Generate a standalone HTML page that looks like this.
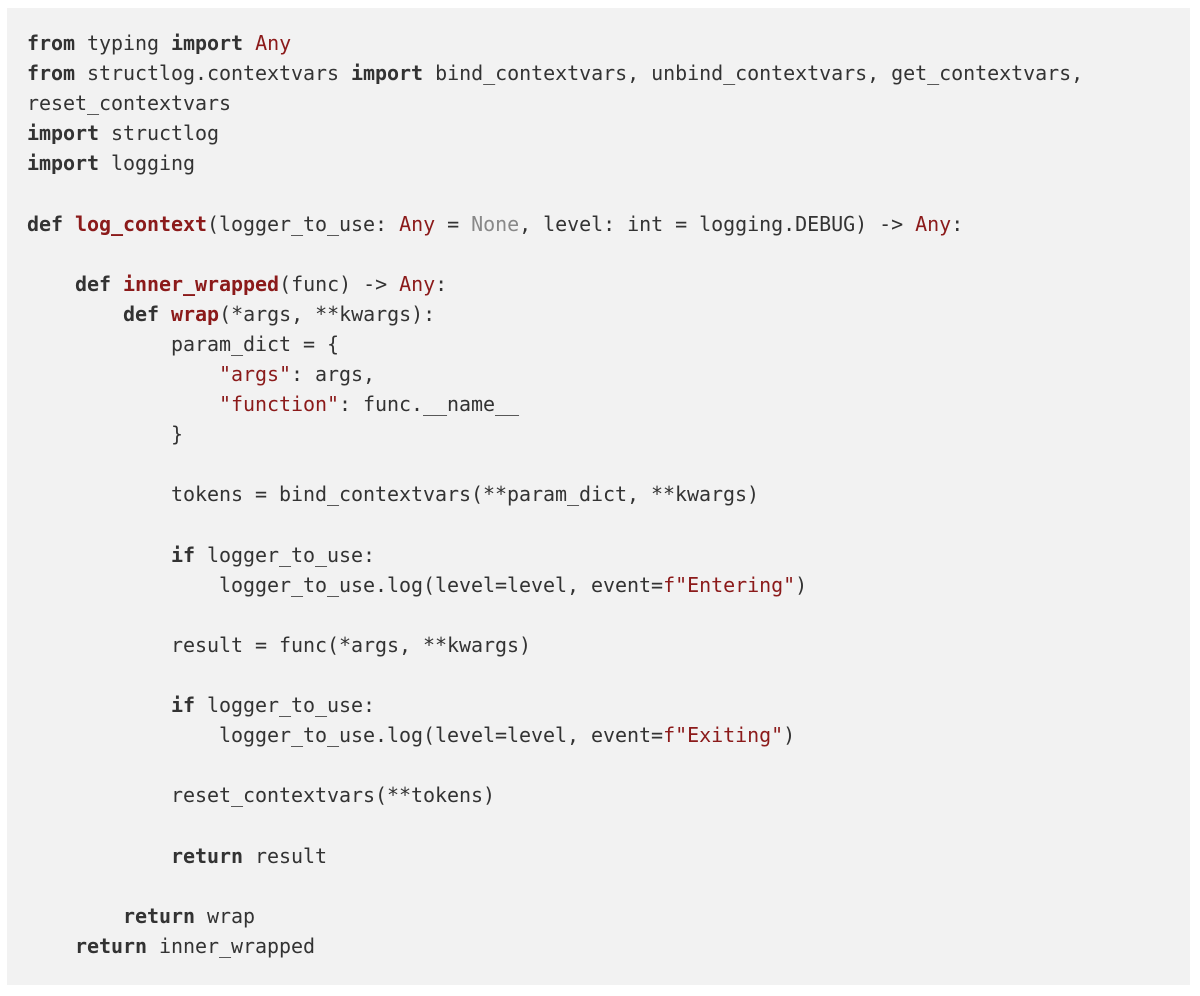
<!DOCTYPE html>
<html><head><meta charset="utf-8"><style>
html,body{margin:0;padding:0;background:#fff;width:1200px;height:996px;overflow:hidden}
.box{position:absolute;left:7px;top:8px;width:1183px;height:977px;background:#f2f2f2}
pre{position:absolute;left:27px;top:28px;margin:0;font-family:"DejaVu Sans Mono","Liberation Mono",monospace;font-size:20px;line-height:30.1px;color:#333;letter-spacing:-0.04px}
b{font-weight:bold;color:#333}
.f{font-weight:bold;color:#8b1a1a}
.r{color:#8b1a1a}
.g{color:#888}
</style></head><body><div class="box"></div>
<pre><b>from</b> typing <b>import</b> <span class="r">Any</span>
<b>from</b> structlog.contextvars <b>import</b> bind_contextvars, unbind_contextvars, get_contextvars,
reset_contextvars
<b>import</b> structlog
<b>import</b> logging

<b>def</b> <span class="f">log_context</span>(logger_to_use: <span class="r">Any</span> = <span class="g">None</span>, level: int = logging.DEBUG) -&gt; <span class="r">Any</span>:

    <b>def</b> <span class="f">inner_wrapped</span>(func) -&gt; <span class="r">Any</span>:
        <b>def</b> <span class="f">wrap</span>(*args, **kwargs):
            param_dict = {
                <span class="r">"args"</span>: args,
                <span class="r">"function"</span>: func.__name__
            }

            tokens = bind_contextvars(**param_dict, **kwargs)

            <b>if</b> logger_to_use:
                logger_to_use.log(level=level, event=<span class="r">f"Entering"</span>)

            result = func(*args, **kwargs)

            <b>if</b> logger_to_use:
                logger_to_use.log(level=level, event=<span class="r">f"Exiting"</span>)

            reset_contextvars(**tokens)

            <b>return</b> result

        <b>return</b> wrap
    <b>return</b> inner_wrapped</pre>
</body></html>
